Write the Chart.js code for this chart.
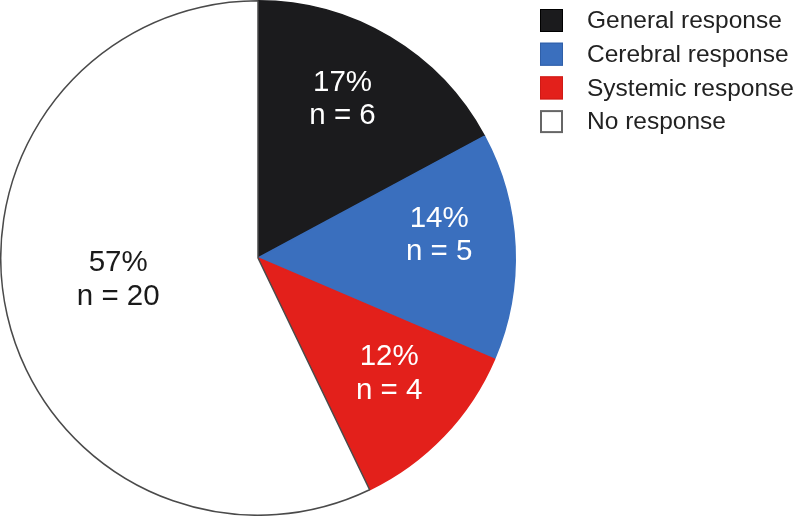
<!DOCTYPE html>
<html>
<head>
<meta charset="utf-8">
<script src="https://cdn.jsdelivr.net/npm/chart.js@4"></script>
<style>
  html, body { margin: 0; padding: 0; background: #ffffff; }
  #wrap { width: 800px; height: 516px; position: relative; }
</style>
</head>
<body>
<div id="wrap"><canvas id="c" width="800" height="516"></canvas></div>
<script>
const categories = ["General response", "Cerebral response", "Systemic response", "No response"];
const counts = [6, 5, 4, 20];
const percentLabels = ["17%", "14%", "12%", "57%"];
const countLabels = ["n = 6", "n = 5", "n = 4", "n = 20"];

const fillColors = ["#1b1b1d", "#3a6fbe", "#e3201b", "#ffffff"];
const borderColors = ["#1b1b1d", "#3a6fbe", "#e3201b", "#4a4a4a"];
const legendBorders = ["#000000", "#2f5fa8", "#d01a15", "#666666"];
const textColors = ["#ffffff", "#ffffff", "#ffffff", "#1a1a1a"];
const labelRadiusFactor = [0.70, 0.71, 0.68, 0.55];
const labelAngleShift = [-0.05, -0.08, -0.04, 0.07];

const FONT = '"Liberation Sans", Arial, Helvetica, sans-serif';

const sliceLabels = {
  id: 'sliceLabels',
  afterDatasetsDraw(chart) {
    const ctx = chart.ctx;
    const meta = chart.getDatasetMeta(0);
    ctx.save();
    ctx.font = '29.5px ' + FONT;
    ctx.textAlign = 'center';
    ctx.textBaseline = 'middle';
    meta.data.forEach((arc, i) => {
      const p = arc.getProps(['x', 'y', 'startAngle', 'endAngle', 'outerRadius'], true);
      const mid = (p.startAngle + p.endAngle) / 2 + labelAngleShift[i];
      const r = p.outerRadius * labelRadiusFactor[i];
      const cx = p.x + Math.cos(mid) * r;
      const cy = p.y + Math.sin(mid) * r;
      ctx.fillStyle = textColors[i];
      ctx.fillText(percentLabels[i], cx, cy - 16.5);
      ctx.fillText(countLabels[i], cx, cy + 17);
    });
    ctx.restore();
  }
};

const customLegend = {
  id: 'customLegend',
  afterDraw(chart) {
    const ctx = chart.ctx;
    ctx.save();
    const x0 = 540, y0 = 9, box = 23, step = 33.7;
    ctx.font = '24.5px ' + FONT;
    ctx.textBaseline = 'middle';
    ctx.textAlign = 'left';
    chart.data.labels.forEach((lab, i) => {
      const y = y0 + i * step;
      ctx.fillStyle = fillColors[i];
      ctx.fillRect(x0, y, box, box);
      ctx.strokeStyle = legendBorders[i];
      ctx.lineWidth = i === 3 ? 2 : 1;
      ctx.strokeRect(x0 + (i === 3 ? 1 : 0.5), y + (i === 3 ? 1 : 0.5), box - (i === 3 ? 2 : 1), box - (i === 3 ? 2 : 1));
      ctx.fillStyle = '#222222';
      ctx.fillText(lab, 587, y + box / 2 + 1);
    });
    ctx.restore();
  }
};

new Chart(document.getElementById('c'), {
  type: 'pie',
  data: {
    labels: categories,
    datasets: [{
      data: counts,
      backgroundColor: fillColors,
      borderColor: borderColors,
      borderWidth: 1.5
    }]
  },
  options: {
    responsive: false,
    animation: false,
    layout: { padding: { left: 0, top: 0, bottom: 0, right: 284 } },
    plugins: {
      legend: { display: false },
      tooltip: { enabled: false }
    }
  },
  plugins: [sliceLabels, customLegend]
});
</script>
</body>
</html>
